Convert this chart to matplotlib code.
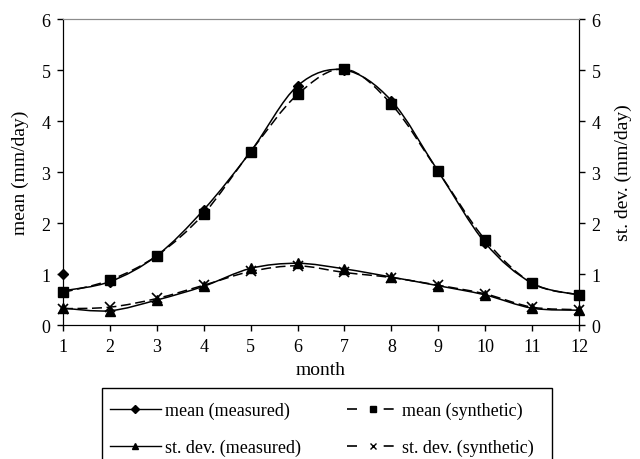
import numpy as np
import matplotlib.pyplot as plt
from matplotlib.path import Path
from matplotlib.patches import PathPatch, Rectangle
from matplotlib.lines import Line2D

plt.rcParams['font.family'] = ['Liberation Serif', 'DejaVu Serif']
plt.rcParams['font.size'] = 13

months = [1, 2, 3, 4, 5, 6, 7, 8, 9, 10, 11, 12]
mean_measured = [0.67, 0.85, 1.36, 2.26, 3.40, 4.69, 5.00, 4.40, 3.01, 1.61, 0.82, 0.59]
mean_measured_jan_point = 1.00
mean_synthetic = [0.64, 0.88, 1.36, 2.18, 3.40, 4.52, 5.02, 4.33, 3.01, 1.67, 0.82, 0.59]
sd_measured = [0.33, 0.28, 0.49, 0.76, 1.11, 1.21, 1.10, 0.94, 0.77, 0.59, 0.33, 0.29]
sd_synthetic = [0.32, 0.35, 0.52, 0.78, 1.05, 1.16, 1.03, 0.93, 0.78, 0.61, 0.35, 0.30]


def smooth_path(x, y):
    # cubic bezier through every point (catmull-rom style control points)
    pts = np.column_stack([x, y]).astype(float)
    n = len(pts)
    verts = [pts[0]]
    codes = [Path.MOVETO]
    for i in range(n - 1):
        p0 = pts[max(i - 1, 0)]
        p1 = pts[i]
        p2 = pts[i + 1]
        p3 = pts[min(i + 2, n - 1)]
        c1 = p1 + (p2 - p0) / 6.0
        c2 = p2 - (p3 - p1) / 6.0
        verts += [c1, c2, p2]
        codes += [Path.CURVE4] * 3
    return Path(verts, codes)


def draw_curve(ax, x, y, dashed):
    patch = PathPatch(smooth_path(x, y), fill=False, edgecolor='black', lw=1.1)
    if dashed:
        patch.set_linestyle((0, (6.5, 3)))
    ax.add_patch(patch)


fig = plt.figure(figsize=(6.4, 4.6), dpi=100)
ax = fig.add_axes([0.0984, 0.2913, 0.8063, 0.6652])
ax2 = ax.twinx()

# mean series on the left axis
draw_curve(ax, months, mean_measured, False)
draw_curve(ax, months, mean_synthetic, True)
ax.plot(months, mean_synthetic, ls='none', marker='s', ms=6.5, color='black', clip_on=False)
diamonds = [mean_measured_jan_point] + mean_measured[1:]
ax.plot(months, diamonds, ls='none', marker='D', ms=5.5, color='black', clip_on=False)

# standard deviation series on the right axis
draw_curve(ax2, months, sd_measured, False)
draw_curve(ax2, months, sd_synthetic, True)
ax2.plot(months, sd_measured, ls='none', marker='^', ms=7.5, color='black', clip_on=False)
ax2.plot(months, sd_synthetic, ls='none', marker='x', ms=7, mew=1.2, color='black', clip_on=False)

for a in (ax, ax2):
    a.set_xlim(1, 12)
    a.set_ylim(0, 6)
    a.set_yticks(range(0, 7))
    a.spines['top'].set_color('#8c8c8c')
    a.tick_params(direction='out', length=4, width=1, pad=5, labelsize=13)

ax.set_xticks(months)
ax.set_xlabel('month', labelpad=5, fontsize=14)
ax.set_ylabel('mean (mm/day)', labelpad=9, fontsize=14)
ax2.set_ylabel('st. dev. (mm/day)', labelpad=10, fontsize=14)

# legend filled column by column, so order gives rows: mean / st. dev.
handles = [
    Line2D([], [], color='black', lw=1, marker='D', ms=4),
    Line2D([], [], color='black', lw=1, marker='^', ms=5),
    Line2D([], [], color='black', lw=1.2, ls=(0, (6, 16)), marker='s', ms=5),
    Line2D([], [], color='black', lw=1.2, ls=(0, (6, 16)), marker='x', ms=5, mew=1),
]
labels = ['mean (measured)', 'st. dev. (measured)',
          'mean (synthetic)', 'st. dev. (synthetic)']
leg = fig.legend(handles, labels, ncol=2, loc='upper left',
                 bbox_to_anchor=(110 / 640, 1 - 403 / 460),
                 frameon=False, handlelength=2.8, handletextpad=0.22,
                 labelspacing=1.07, columnspacing=2.6,
                 borderpad=0, borderaxespad=0, fontsize=13)

# legend box runs off the bottom edge of the figure
fig.add_artist(Rectangle((102 / 640, -0.05), 450 / 640, 71 / 460 + 0.05,
                         transform=fig.transFigure, fill=False,
                         edgecolor='black', lw=1.0))

fig.savefig('out.png', dpi=100)
